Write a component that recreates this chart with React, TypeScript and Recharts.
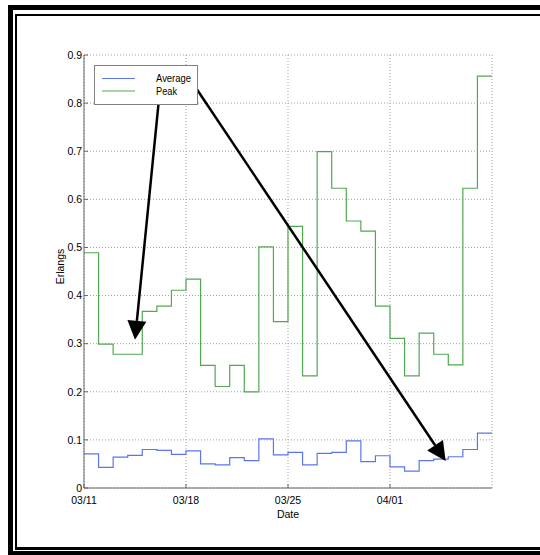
import React from "react";
import {
  LineChart,
  Line,
  XAxis,
  YAxis,
  CartesianGrid,
  Legend,
  ReferenceLine,
} from "recharts";

const dateTicks = [0, 7, 14, 21];
const dateLabels = ["03/11", "03/18", "03/25", "04/01"];
const erlangTicks = [0, 0.1, 0.2, 0.3, 0.4, 0.5, 0.6, 0.7, 0.8, 0.9];

// one value per day, first day is 03/11
const average = [
  0.071, 0.043, 0.064, 0.068, 0.08, 0.078, 0.07, 0.077, 0.05, 0.048, 0.063,
  0.057, 0.102, 0.069, 0.074, 0.048, 0.072, 0.074, 0.098, 0.055, 0.067, 0.044,
  0.035, 0.057, 0.06, 0.065, 0.08, 0.114,
];
const peak = [
  0.489, 0.299, 0.278, 0.278, 0.367, 0.378, 0.411, 0.434, 0.255, 0.211, 0.255,
  0.2, 0.501, 0.346, 0.544, 0.233, 0.699, 0.623, 0.555, 0.534, 0.378, 0.311,
  0.233, 0.322, 0.278, 0.256, 0.623, 0.856,
];

// arrows from the legend labels down to the curves (day, erlangs)
const peakArrow = [
  { x: 5.15, y: 0.81 },
  { x: 3.5, y: 0.308 },
];
const averageArrow = [
  { x: 7.41, y: 0.844 },
  { x: 24.82, y: 0.056 },
];

const BLUE = "#5b74f0";
const GREEN = "#52a852";
const FONT = "'Liberation Sans', Arial, sans-serif";

// stairs need a closing point so the last day gets its full width
const rows = peak.map((p, i) => ({ day: i, peak: p, average: average[i] }));
rows.push({
  day: peak.length,
  peak: peak[peak.length - 1],
  average: average[average.length - 1],
});

function Arrow(props: any) {
  const { x1, y1, x2, y2 } = props;
  const dx = x2 - x1;
  const dy = y2 - y1;
  const len = Math.hypot(dx, dy) || 1;
  const ux = dx / len;
  const uy = dy / len;
  const head = 19;
  const half = 9.5;
  const bx = x2 - ux * head;
  const by = y2 - uy * head;
  const pts = `${x2},${y2} ${bx - uy * half},${by + ux * half} ${bx + uy * half},${by - ux * half}`;
  return (
    <g>
      <line x1={x1} y1={y1} x2={bx} y2={by} stroke="#000" strokeWidth={2.5} />
      <polygon points={pts} fill="#000" />
    </g>
  );
}

function LegendBox() {
  return (
    <svg width={104} height={40} style={{ display: "block" }}>
      <rect x={0.5} y={0.5} width={103} height={39} fill="#fff" stroke="#808080" />
      <line x1={8} x2={41} y1={13.5} y2={13.5} stroke={BLUE} />
      <line x1={8} x2={41} y1={26} y2={26} stroke={GREEN} />
      <text x={62} y={17} fontSize={11.5} fontFamily={FONT} textLength={35} lengthAdjust="spacingAndGlyphs">
        Average
      </text>
      <text x={62} y={30} fontSize={11.5} fontFamily={FONT} textLength={21} lengthAdjust="spacingAndGlyphs">
        Peak
      </text>
    </svg>
  );
}

function ErlangsLabel({ viewBox }: any) {
  const cx = viewBox.x + viewBox.width / 2 + 2;
  const cy = viewBox.y + viewBox.height / 2 - 5;
  return (
    <text
      x={cx}
      y={cy}
      transform={`rotate(-90, ${cx}, ${cy})`}
      textAnchor="middle"
      fontSize={10.5}
      fontFamily={FONT}
      fill="#000"
    >
      Erlangs
    </text>
  );
}

function Frame() {
  return (
    <>
      <div style={{ position: "absolute", left: 8, top: 5, width: 532, height: 5, background: "#000" }} />
      <div style={{ position: "absolute", left: 8, top: 5, width: 5, height: 550, background: "#000" }} />
      <div style={{ position: "absolute", left: 15, top: 14, width: 525, height: 2, background: "#000" }} />
      <div style={{ position: "absolute", left: 15, top: 14, width: 2, height: 536, background: "#000" }} />
      <div style={{ position: "absolute", left: 15, top: 547, width: 525, height: 3, background: "#000" }} />
      <div style={{ position: "absolute", left: 8, top: 551, width: 532, height: 4, background: "#000" }} />
    </>
  );
}

export default function App() {
  return (
    <div
      style={{
        position: "absolute",
        left: 0,
        top: 0,
        width: 540,
        height: 555,
        background: "#fff",
        overflow: "hidden",
        fontFamily: FONT,
      }}
    >
      <Frame />
      <div style={{ position: "absolute", left: 0, top: 0 }}>
        <LineChart
          width={540}
          height={555}
          data={rows}
          margin={{ top: 55, right: 48, bottom: 37, left: 40 }}
        >
          <CartesianGrid stroke="#a0a0a0" strokeDasharray="1 2" />
          <XAxis
            dataKey="day"
            type="number"
            domain={[0, 28]}
            ticks={dateTicks}
            tickFormatter={(v) => dateLabels[dateTicks.indexOf(v)]}
            height={30}
            tickSize={-4}
            tickMargin={13}
            stroke="#666"
            tick={{ fill: "#000", fontSize: 10.5, fontFamily: FONT }}
            label={{ value: "Date", position: "insideBottom", offset: 0, fontSize: 10.5, fill: "#000", fontFamily: FONT }}
          />
          <XAxis
            xAxisId="top"
            orientation="top"
            dataKey="day"
            type="number"
            domain={[0, 28]}
            ticks={dateTicks}
            tick={false}
            tickSize={-4}
            height={0}
            stroke="#666"
          />
          <YAxis
            type="number"
            domain={[0, 0.9]}
            ticks={erlangTicks}
            tickFormatter={(v) => (v === 0 ? "0" : v.toFixed(1))}
            width={44}
            tickSize={-4}
            tickMargin={6}
            stroke="#666"
            tick={{ fill: "#000", fontSize: 10.5, fontFamily: FONT }}
            label={<ErlangsLabel />}
          />
          <YAxis
            yAxisId="right"
            orientation="right"
            type="number"
            domain={[0, 0.9]}
            ticks={erlangTicks}
            tick={false}
            tickSize={-4}
            width={0}
            stroke="#666"
          />
          <Legend
            layout="vertical"
            align="center"
            verticalAlign="middle"
            content={() => <LegendBox />}
            wrapperStyle={{ position: "absolute", left: 94, top: 65, width: 104, height: 40 }}
          />
          <Line
            type="stepAfter"
            dataKey="average"
            name="Average"
            stroke={BLUE}
            strokeWidth={1.2}
            dot={false}
            activeDot={false}
            isAnimationActive={false}
          />
          <Line
            type="stepAfter"
            dataKey="peak"
            name="Peak"
            stroke={GREEN}
            strokeWidth={1.2}
            dot={false}
            activeDot={false}
            isAnimationActive={false}
          />
          <ReferenceLine segment={peakArrow} shape={<Arrow />} ifOverflow="visible" />
          <ReferenceLine segment={averageArrow} shape={<Arrow />} ifOverflow="visible" />
        </LineChart>
      </div>
    </div>
  );
}
